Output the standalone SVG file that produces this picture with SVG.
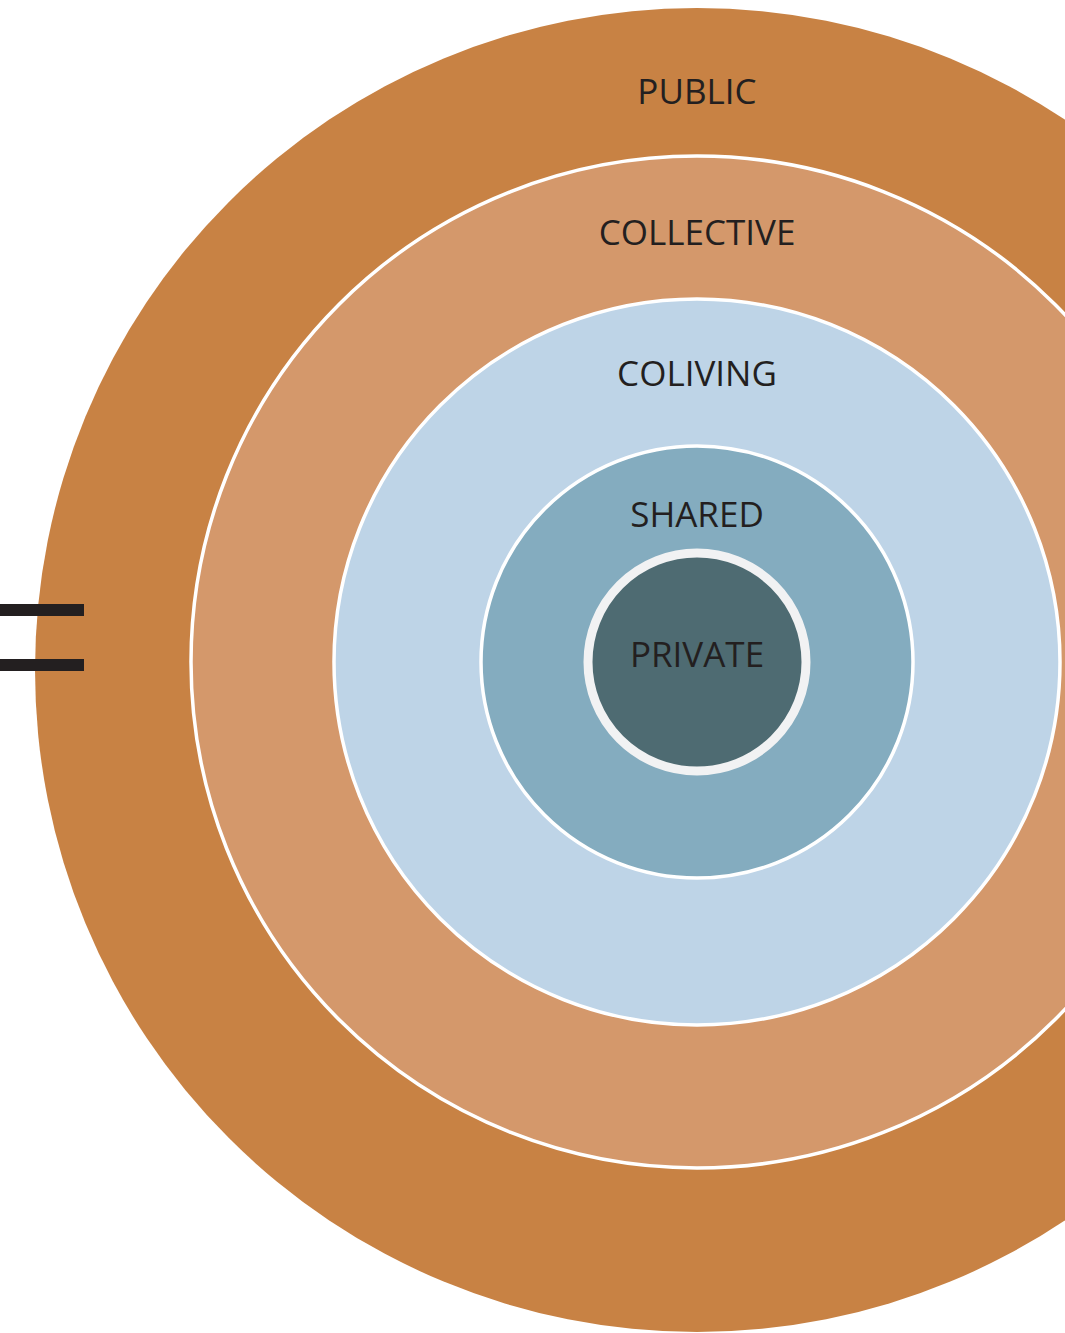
<svg xmlns="http://www.w3.org/2000/svg" width="1065" height="1333" viewBox="0 0 1065 1333">
<style>
.lbl{font-family:"Open Sans","Liberation Sans",sans-serif;font-size:35px;fill:#231f20;text-anchor:middle}
.ring{stroke:#ffffff;stroke-width:3.5}
</style>
<rect width="1065" height="1333" fill="#ffffff"/>
<g id="public">
<circle cx="697" cy="670" r="662" fill="#c88244"/>
<text class="lbl" x="697" y="104">PUBLIC</text>
</g>
<g id="collective">
<circle class="ring" cx="697" cy="662" r="506" fill="#d4986b"/>
<text class="lbl" x="697" y="245">COLLECTIVE</text>
</g>
<g id="coliving">
<circle class="ring" cx="697" cy="662" r="363" fill="#bed4e7"/>
<text class="lbl" x="697" y="386">COLIVING</text>
</g>
<g id="shared">
<circle class="ring" cx="697" cy="662" r="216" fill="#84acbf"/>
<text class="lbl" x="697" y="527">SHARED</text>
</g>
<g id="private">
<circle cx="697" cy="662" r="109" fill="#4e6b72" stroke="#f1f2f3" stroke-width="9"/>
<text class="lbl" x="697" y="667">PRIVATE</text>
</g>
<g id="connectors">
<rect x="0" y="604" width="84" height="12" fill="#231f20"/>
<rect x="0" y="659" width="84" height="12" fill="#231f20"/>
</g>
</svg>
